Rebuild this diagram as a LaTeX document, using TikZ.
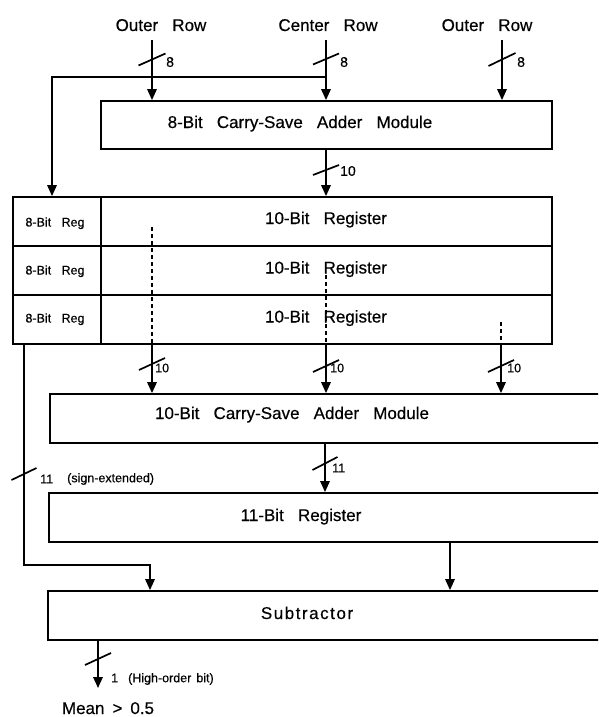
\documentclass[tikz,border=0pt]{standalone}
\usepackage{fontspec}
\setmainfont{Liberation Sans}[WordSpace=3, FakeBold=0.4]
\usetikzlibrary{arrows.meta}
\begin{document}
\begin{tikzpicture}[x=1pt,y=-1pt,
  box/.style={draw, line width=1.8pt, inner sep=0pt, minimum height=49pt},
  conn/.style={line width=1.7pt},
  arr/.style={conn, -{Triangle[length=11pt,width=9.5pt]}},
  dotconn/.style={line width=1.4pt, dash pattern=on 4pt off 3pt},
  slash/.style={line width=1.7pt},
  big/.style={font=\fontsize{17}{20}\selectfont, inner sep=0pt, anchor=base},
  small/.style={font=\fontsize{12.5}{15}\selectfont, inner sep=0pt, anchor=base},
  bits/.style={font=\fontsize{14}{16}\selectfont, inner sep=0pt, anchor=west},
  bitsb/.style={font=\fontsize{12.5}{15}\selectfont, inner sep=0pt, anchor=west}
]
\path[use as bounding box] (0,0) rectangle (598,717);
\clip (0,0) rectangle (598,717);

% column coordinates
\coordinate (in1) at (152,40);
\coordinate (in2) at (326,40);
\coordinate (in3) at (502,40);

% boxes
\node[box, minimum width=451pt, minimum height=48pt] (csa1) at (326.5,125) {};
\node[box, minimum width=88pt] (r1a) at (57,221.5) {};
\node[box, minimum width=451pt] (r1b) at (326.5,221.5) {};
\node[box, minimum width=88pt] (r2a) at (57,270.5) {};
\node[box, minimum width=451pt] (r2b) at (326.5,270.5) {};
\node[box, minimum width=88pt] (r3a) at (57,319.5) {};
\node[box, minimum width=451pt] (r3b) at (326.5,319.5) {};
\node[box, minimum width=580pt] (csa2) at (340,418.5) {};
\node[box, minimum width=581pt] (reg11) at (339.5,517.5) {};
\node[box, minimum width=582pt] (sub) at (339,615.5) {};

% texts
\node[big] (tin1) at (161,31) {Outer Row};
\node[big] (tin2) at (328,31) {Center Row};
\node[big] (tin3) at (487,31) {Outer Row};
\node[big] (tcsa1) at (300,128) {8-Bit Carry-Save Adder Module};
\node[small] (tr1a) at (55,226.5) {8-Bit Reg};
\node[small] (tr2a) at (55,274.5) {8-Bit Reg};
\node[small] (tr3a) at (55,322.5) {8-Bit Reg};
\node[big] (tr1b) at (326,224) {10-Bit Register};
\node[big] (tr2b) at (326,273.5) {10-Bit Register};
\node[big] (tr3b) at (326,322.5) {10-Bit Register};
\node[big] (tcsa2) at (292,419) {10-Bit Carry-Save Adder Module};
\node[big] (treg11) at (301,521) {11-Bit Register};
\node[big] (tsub) at (307,619) {\addfontfeature{LetterSpace=9}Subtractor};
\node[big] (tmean) at (108,714) {Mean\hspace{8pt}>\hspace{8pt}0.5};

% inputs
\draw[arr] (in1) -- (in1 |- csa1.north);
\draw[arr] (in2) -- (in2 |- csa1.north);
\draw[arr] (in3) -- (in3 |- csa1.north);
\draw[slash] (152,59.5) +(-13.5,6) -- +(13.5,-6);
\draw[slash] (326,59) +(-13,5.5) -- +(13,-5.5);
\draw[slash] (502,59.5) +(-13.5,6.5) -- +(13.5,-6.5);
\node[bits] (b1) at (166,62) {8};
\node[bits] (b2) at (340,62) {8};
\node[bits] (b3) at (517,62) {8};

% feedback branch to 8-bit reg
\coordinate (br) at (326,77);
\draw[arr] (br) -| ([xshift=-5pt]r1a.north);

% csa1 -> register
\draw[arr] (csa1.south -| in2) -- (r1b.north -| in2);
\draw[slash] (326,170) +(-13,5) -- +(13,-5);
\node[bits] (b4) at (340,171) {10};

% dashed internal lines
\coordinate (d1) at (152,227);
\coordinate (d2) at (326,275);
\coordinate (d3) at (501,322);
\draw[dotconn] (d1) -- (d1 |- r3b.south);
\draw[dotconn] (d2) -- (d2 |- r3b.south);
\draw[dotconn] (d3) -- (d3 |- r3b.south);

% register -> csa2
\draw[arr] (r3b.south -| d1) -- (csa2.north -| d1);
\draw[arr] (r3b.south -| d2) -- (csa2.north -| d2);
\draw[arr] (r3b.south -| d3) -- (csa2.north -| d3);
\draw[slash] (152,364) +(-13,6) -- +(13,-6);
\draw[slash] (326,366) +(-13,6) -- +(13,-6);
\draw[slash] (501,366) +(-13,6) -- +(13,-6);
\node[bitsb] (b5) at (155,368) {10};
\node[bitsb] (b6) at (330,368) {10};
\node[bitsb] (b7) at (507,368) {10};

% csa2 -> 11-bit register
\coordinate (c11) at (325,0);
\draw[arr] (csa2.south -| c11) -- (reg11.north -| c11);
\draw[slash] (325,463.5) +(-12.5,6.5) -- +(12.5,-6.5);
\node[bitsb] (b8) at (332,468) {11};

% 8-bit reg -> subtractor (sign-extended)
\coordinate (lo) at (24,565);
\coordinate (li) at (150,565);
\draw[arr] (r3a.south -| lo) -- (lo) -- (li) -- (li |- sub.north);
\draw[slash] (24,474) +(-12.5,6) -- +(12.5,-6);
\node[bitsb] (b9) at (40,479) {11};
\node[bitsb] (b10) at (67,479) {(sign-extended)};

% 11-bit register -> subtractor
\coordinate (cD) at (450,0);
\draw[arr] (reg11.south -| cD) -- (sub.north -| cD);

% output
\coordinate (out) at (98,688);
\draw[arr] (sub.south -| out) -- (out);
\draw[slash] (98,659) +(-13,6) -- +(13,-6);
\node[bitsb] (b11) at (111,679) {1\hspace{10pt}(High-order\hspace{5pt}bit)};
\end{tikzpicture}
\end{document}
